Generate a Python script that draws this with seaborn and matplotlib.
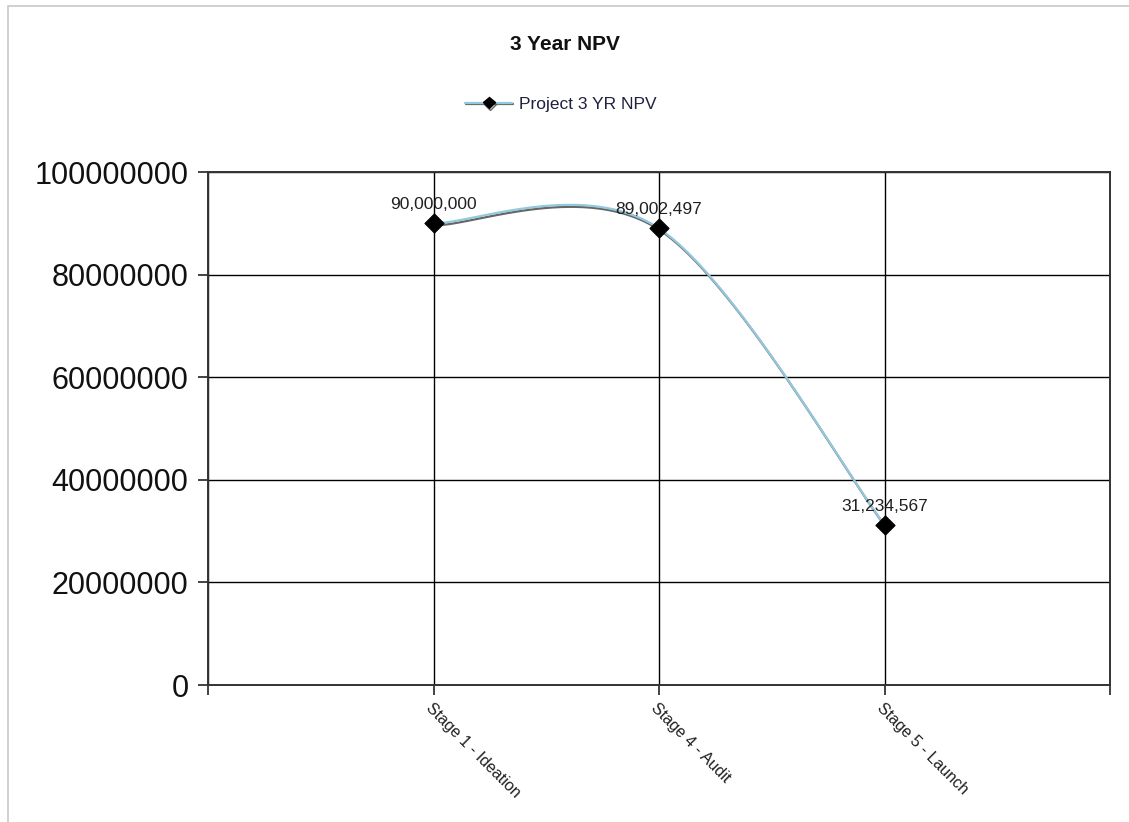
import numpy as np
import pandas as pd
import matplotlib
matplotlib.use("Agg")
import matplotlib.pyplot as plt
import matplotlib.patheffects as pe
from matplotlib.lines import Line2D
from matplotlib.patches import Rectangle
import seaborn as sns

# data
stages = ["Stage 1 - Ideation", "Stage 4 - Audit", "Stage 5 - Launch"]
npv = [90000000, 89002497, 31234567]
y_ticks = [0, 20000000, 40000000, 60000000, 80000000, 100000000]

sns.set_theme(style="white")
plt.rcParams["font.family"] = ["Liberation Sans", "DejaVu Sans"]

LINE_BLUE = "#93c9dc"
SHADOW = "#555555"


def catmull_rom(xs, ys, steps=60):
    # smooth curve through points, ends use duplicated endpoints
    px = [xs[0]] + list(xs) + [xs[-1]]
    py = [ys[0]] + list(ys) + [ys[-1]]
    cx, cy = [], []
    for i in range(1, len(px) - 2):
        t = np.linspace(0, 1, steps)
        for p, out in ((px, cx), (py, cy)):
            p0, p1, p2, p3 = p[i - 1], p[i], p[i + 1], p[i + 2]
            m1 = (p2 - p0) / 2
            m2 = (p3 - p1) / 2
            h00 = 2 * t**3 - 3 * t**2 + 1
            h10 = t**3 - 2 * t**2 + t
            h01 = -2 * t**3 + 3 * t**2
            h11 = t**3 - t**2
            out.extend(h00 * p1 + h10 * m1 + h01 * p2 + h11 * m2)
    return np.array(cx), np.array(cy)


df = pd.DataFrame({"stage": stages, "npv": npv, "pos": range(len(stages))})
sx, sy = catmull_rom(df["pos"].values.astype(float), df["npv"].values.astype(float))
curve = pd.DataFrame({"x": sx, "y": sy})

fig = plt.figure(figsize=(11.29, 8.22), dpi=100)
ax = fig.add_axes([208 / 1129, 1 - 685 / 822, (1110 - 208) / 1129, (685 - 172) / 822])

# outer border of the chart image
fig.patches.append(Rectangle((8 / 1129, -0.1), 1.1, 1 - 6 / 822 + 0.1,
                             transform=fig.transFigure, fill=False,
                             edgecolor="#c8c8c8", linewidth=1.2))

shadow = [pe.SimpleLineShadow(offset=(0.8, -1.4), shadow_color=SHADOW, alpha=0.9),
          pe.Normal()]
sns.lineplot(data=curve, x="x", y="y", sort=False, ax=ax, color=LINE_BLUE,
             linewidth=1.6, path_effects=shadow, zorder=3)
sns.scatterplot(data=df, x="pos", y="npv", ax=ax, marker="D", s=95,
                color="black", edgecolor="black", zorder=4)

for _, r in df.iterrows():
    ax.annotate(f"{r['npv']:,}", (r["pos"], r["npv"]), xytext=(0, 8),
                textcoords="offset points", ha="center", va="bottom",
                fontsize=12.5, color="#202020", zorder=5)

ax.set_xlim(-1, 3)
ax.set_ylim(0, 100000000)
ax.set_xticks([-1, 0, 1, 2, 3])
ax.set_xticklabels([""] + stages + [""], rotation=-45, ha="left",
                   rotation_mode="anchor", fontsize=11.5, color="#202020")
ax.set_yticks(y_ticks)
ax.set_yticklabels([str(v) for v in y_ticks], fontsize=22, color="#111111")
ax.grid(True, color="black", linewidth=1.0)
ax.set_axisbelow(True)
ax.tick_params(axis="both", which="both", direction="out", length=7,
               width=1.2, color="#222222", left=True, bottom=True)
ax.tick_params(axis="y", pad=7)
ax.tick_params(axis="x", pad=4)
for s in ax.spines.values():
    s.set_color("#333333")
    s.set_linewidth(1.4)
ax.set_xlabel("")
ax.set_ylabel("")

fig.text(565 / 1129, 1 - 44 / 822, "3 Year NPV", ha="center", va="center",
         fontsize=15, fontweight="bold", color="#111111")

handle = Line2D([], [], color=LINE_BLUE, linewidth=1.6, marker="D",
                markersize=6, markerfacecolor="black", markeredgecolor="black",
                path_effects=shadow)
fig.legend([handle], ["Project 3 YR NPV"], loc="center",
           bbox_to_anchor=(561 / 1129, 1 - 104 / 822), frameon=False,
           fontsize=12.5, handlelength=2.7, handletextpad=0.4,
           labelcolor="#202040")

fig.savefig("out.png", dpi=100)
